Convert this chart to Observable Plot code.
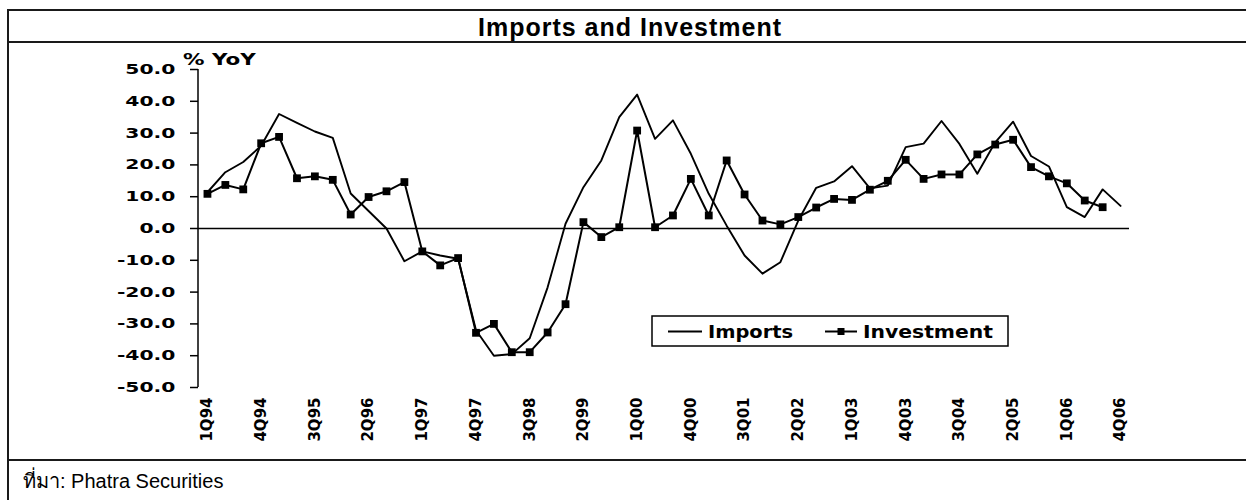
<!DOCTYPE html>
<html>
<head>
<meta charset="utf-8">
<script src="https://cdn.jsdelivr.net/npm/d3@7"></script>
<script src="https://cdn.jsdelivr.net/npm/@observablehq/plot@0.6"></script>
<style>
  body { margin: 0; background: #fff; }
  #wrap { position: relative; width: 1246px; height: 500px; overflow: hidden; background: #fff;
          font-family: "Liberation Sans", Arial, "Noto Sans", sans-serif; color: #000; }
  .hl { position: absolute; left: 7px; width: 1300px; height: 0; border-top: 2px solid #1a1a1a; }
  .vl { position: absolute; top: 9px; left: 7px; width: 0; height: 500px; border-left: 2px solid #1a1a1a; }
  #title { position: absolute; left: 0; top: 15px; width: 1260px; text-align: center;
           font-size: 25px; line-height: 25px; font-weight: bold; letter-spacing: 1px; }
  #caption { position: absolute; left: 23px; top: 471px; font-size: 20px; line-height: 20px; }
  #chart { position: absolute; left: 0; top: 43px; }
</style>
</head>
<body>
<div id="wrap">
  <div class="hl" style="top:9px"></div>
  <div class="hl" style="top:41px"></div>
  <div class="hl" style="top:459px"></div>
  <div class="vl"></div>
  <div id="title">Imports and Investment</div>
  <div id="chart"></div>
  <div id="caption">ที่มา: Phatra Securities</div>
</div>
<script>
const quarters = [
  "1Q94","2Q94","3Q94","4Q94","1Q95","2Q95","3Q95","4Q95",
  "1Q96","2Q96","3Q96","4Q96","1Q97","2Q97","3Q97","4Q97",
  "1Q98","2Q98","3Q98","4Q98","1Q99","2Q99","3Q99","4Q99",
  "1Q00","2Q00","3Q00","4Q00","1Q01","2Q01","3Q01","4Q01",
  "1Q02","2Q02","3Q02","4Q02","1Q03","2Q03","3Q03","4Q03",
  "1Q04","2Q04","3Q04","4Q04","1Q05","2Q05","3Q05","4Q05",
  "1Q06","2Q06","3Q06","4Q06"
];
const tickLabels = ["1Q94","4Q94","3Q95","2Q96","1Q97","4Q97","3Q98","2Q99","1Q00",
  "4Q00","3Q01","2Q02","1Q03","4Q03","3Q04","2Q05","1Q06","4Q06"];
const yTicks = [-50,-40,-30,-20,-10,0,10,20,30,40,50];
const imports = [11.4,17.7,20.9,26,36,33.2,30.5,28.5,11,5.5,0,-10.3,-7.2,-8.5,-9.5,-32,
  -40,-39.5,-34.5,-18.5,1.5,13,21.4,35,42.1,28.2,34,23.5,10.9,0.9,-8.5,-14.2,-10.6,2.5,
  12.8,14.8,19.6,12.6,13.5,25.6,26.7,33.8,26.6,17.2,27.1,33.6,22.8,19.5,6.7,3.6,12.3,7.1];
const investment = [10.9,13.7,12.3,26.8,28.8,15.8,16.4,15.3,4.4,9.9,11.7,14.6,
  -7.2,-11.6,-9.3,-32.8,-30,-38.9,-38.9,-32.7,-23.8,2,-2.7,0.4,
  30.8,0.4,4.1,15.6,4.1,21.4,10.7,2.5,1.3,3.6,6.6,9.3,
  9,12.2,15,21.6,15.6,17,17,23.3,26.4,27.9,19.3,16.4,14.2,8.8,6.7];
const seriesNames = ["Imports","Investment"];
const yLabel = "% YoY";

const impData = imports.map((v, i) => ({q: quarters[i], v}));
const invData = investment.map((v, i) => ({q: quarters[i], v}));

const W = 1246, H = 415, ML = 198, MR = 117, MT = 26, MB = 71;
const chart = Plot.plot({
  width: W, height: H, marginLeft: ML, marginRight: MR, marginTop: MT, marginBottom: MB,
  style: {fontFamily: "'DejaVu Sans', sans-serif", background: "transparent", color: "#000", overflow: "visible"},
  x: {type: "point", domain: quarters, padding: 0.5},
  y: {domain: [-50, 50]},
  marks: [
    Plot.ruleY([0], {stroke: "#000", strokeWidth: 1.5}),
    Plot.axisY({ticks: yTicks, tickFormat: d => d.toFixed(1), tickSize: 8, tickPadding: 15,
      fontSize: 14, fontWeight: "bold", label: null, stroke: "#000", strokeWidth: 1.5}),
    Plot.axisX({ticks: tickLabels, tickSize: 0, tickRotate: -90, tickPadding: 10,
      fontSize: 15, fontWeight: "bold", label: null}),
    Plot.lineY(impData, {x: "q", y: "v", stroke: "#000", strokeWidth: 1.9}),
    Plot.lineY(invData, {x: "q", y: "v", stroke: "#000", strokeWidth: 2}),
    Plot.dot(invData, {x: "q", y: "v", symbol: "square", r: 4.4, fill: "#000", stroke: null})
  ]
});
document.getElementById("chart").appendChild(chart);

const svg = d3.select(chart);
const ys = chart.scale("y");

// stretch helper: scale a text horizontally about its anchor
function stretch(t, s, anchor) {
  const bb = t.getBBox();
  const ax = anchor === "end" ? bb.x + bb.width : bb.x;
  const ay = bb.y + bb.height / 2;
  const old = t.getAttribute("transform") || "";
  t.setAttribute("transform", `${old} translate(${ax},${ay}) scale(${s},1) translate(${-ax},${-ay})`);
}
svg.selectAll('g[aria-label="y-axis tick label"] text').each(function() { stretch(this, 1.45, "end"); });

// y axis line
svg.append("line").attr("x1", ML).attr("x2", ML)
  .attr("y1", ys.apply(50)).attr("y2", ys.apply(-50))
  .attr("stroke", "#000").attr("stroke-width", 1.5);

// y label
const yl = svg.append("text").attr("x", 183).attr("y", 22).attr("text-anchor", "start")
  .attr("font-family", "'DejaVu Sans', sans-serif").attr("font-weight", "bold")
  .attr("font-size", 15).text(yLabel);
stretch(yl.node(), 1.43, "start");

// legend
const lg = svg.append("g").attr("text-anchor", "start");
lg.append("rect").attr("x", 652).attr("y", 273).attr("width", 356).attr("height", 30)
  .attr("fill", "#fff").attr("stroke", "#000").attr("stroke-width", 1.5);
lg.append("line").attr("x1", 668).attr("x2", 702).attr("y1", 288.5).attr("y2", 288.5)
  .attr("stroke", "#000").attr("stroke-width", 1.8);
lg.append("line").attr("x1", 825).attr("x2", 857).attr("y1", 288.5).attr("y2", 288.5)
  .attr("stroke", "#000").attr("stroke-width", 2);
lg.append("rect").attr("x", 837.5).attr("y", 285).attr("width", 7).attr("height", 7).attr("fill", "#000");
const t1 = lg.append("text").attr("x", 708).attr("y", 295).attr("font-size", 18).attr("text-anchor", "start")
  .attr("font-weight", "bold").attr("font-family", "'DejaVu Sans', sans-serif").text(seriesNames[0]);
const t2 = lg.append("text").attr("x", 863).attr("y", 295).attr("font-size", 18).attr("text-anchor", "start")
  .attr("font-weight", "bold").attr("font-family", "'DejaVu Sans', sans-serif").text(seriesNames[1]);
stretch(t1.node(), 1.08, "start");
stretch(t2.node(), 1.13, "start");
</script>
</body>
</html>
